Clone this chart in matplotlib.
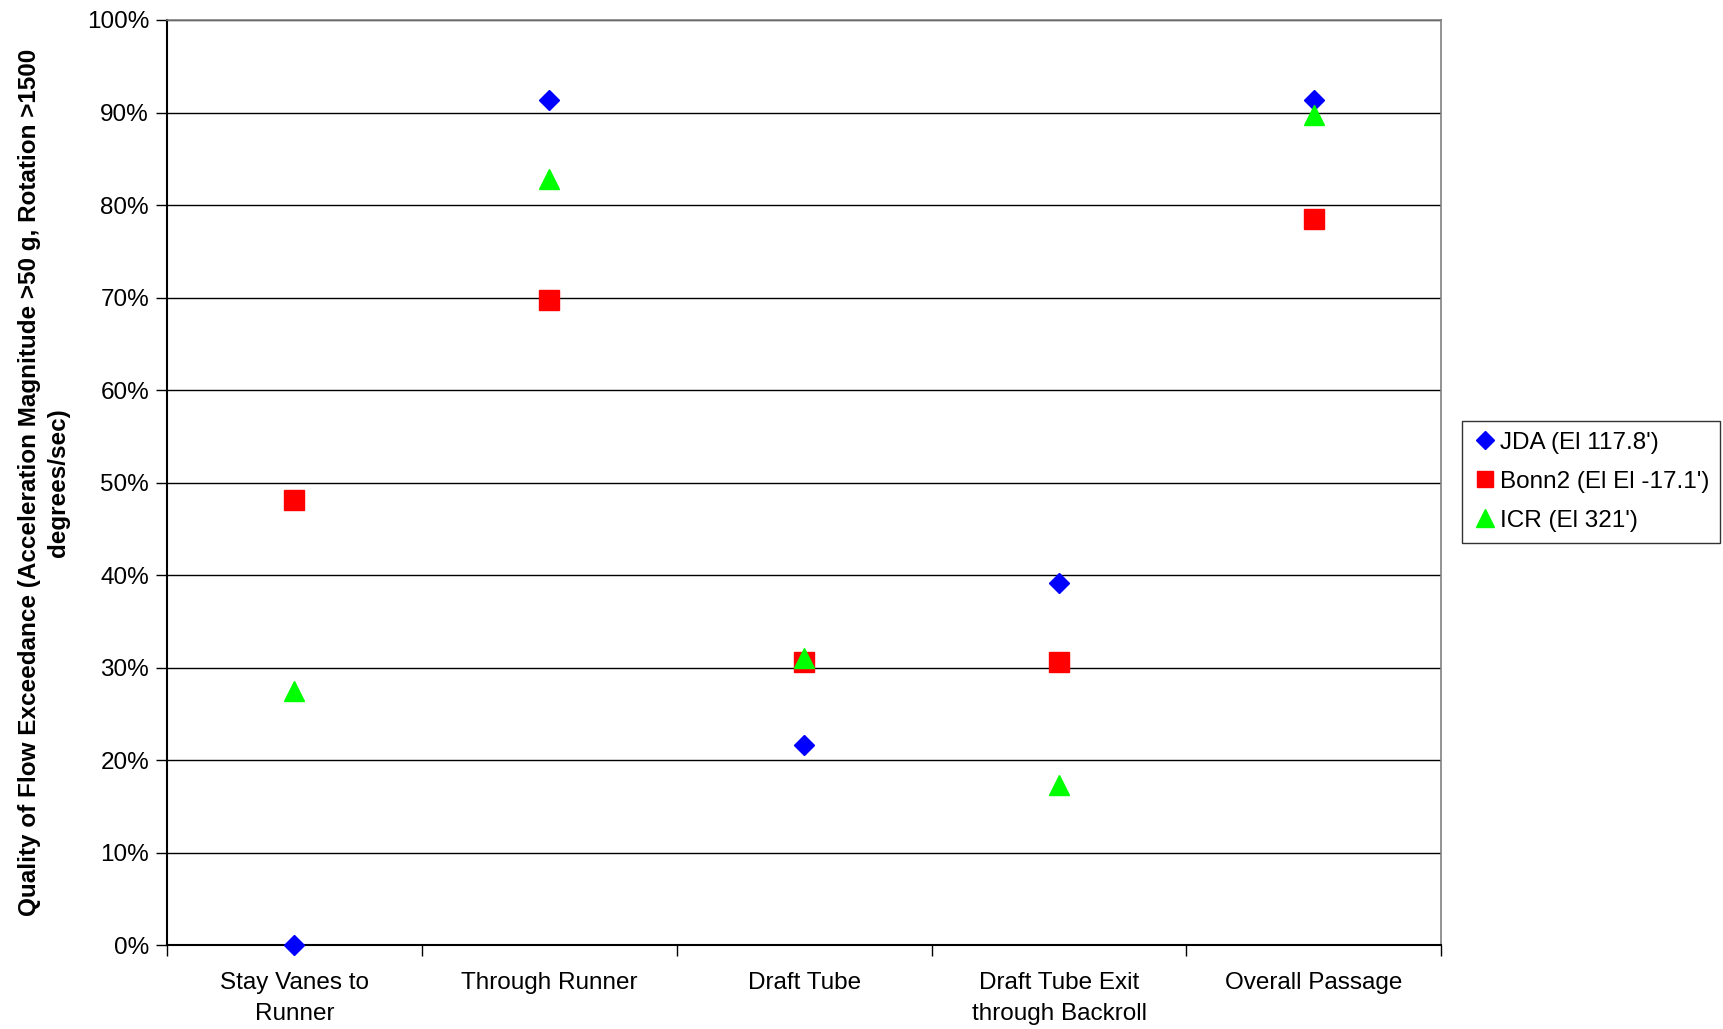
import matplotlib
matplotlib.use("Agg")
import matplotlib.pyplot as plt
from matplotlib.ticker import FixedLocator, PercentFormatter

categories = ["Stay Vanes to\nRunner", "Through Runner", "Draft Tube",
              "Draft Tube Exit\nthrough Backroll", "Overall Passage"]
jda = [0.0, 91.3, 21.7, 39.2, 91.3]
bonn2 = [48.1, 69.7, 30.6, 30.6, 78.5]
icr = [27.5, 82.8, 31.1, 17.3, 89.7]
series_labels = ["JDA (El 117.8')", "Bonn2 (El El -17.1')", "ICR (El 321')"]
ylabel = "Quality of Flow Exceedance (Acceleration Magnitude >50 g, Rotation >1500\ndegrees/sec)"

plt.rcParams['font.family'] = ['Liberation Sans', 'DejaVu Sans']

fig = plt.figure(figsize=(17.24, 10.29), dpi=100)
ax = fig.add_axes([0.0969, 0.0812, 0.836 - 0.0969, 0.9806 - 0.0812])

x = list(range(len(categories)))
ax.plot(x, jda, linestyle='none', marker='D', markersize=10.5, color='#0000FF',
        markeredgecolor='#0000FF', label=series_labels[0], zorder=4, clip_on=False)
ax.plot(x, bonn2, linestyle='none', marker='s', markersize=14, color='#FF0000',
        markeredgecolor='#FF0000', label=series_labels[1], zorder=4, clip_on=False)
ax.plot(x, icr, linestyle='none', marker='^', markersize=15, color='#00FF00',
        markeredgecolor='#00FF00', label=series_labels[2], zorder=4, clip_on=False)

ax.set_xlim(-0.5, len(categories) - 0.5)
ax.set_ylim(0, 100)
ax.yaxis.set_major_locator(FixedLocator(range(0, 101, 10)))
ax.yaxis.set_major_formatter(PercentFormatter(decimals=0))
ax.grid(axis='y', color='black', linewidth=1.0)
ax.set_axisbelow(True)

ax.set_xticks(x)
ax.set_xticklabels(categories, fontsize=17.5, linespacing=1.55)
ax.xaxis.set_minor_locator(FixedLocator([i - 0.5 for i in range(len(categories) + 1)]))
ax.tick_params(axis='x', which='major', length=0, pad=19)
ax.tick_params(axis='x', which='minor', length=8, width=1, color='black', direction='out')
ax.tick_params(axis='y', which='major', length=8, width=1, direction='out', labelsize=17.5, pad=5)

for s in ['top', 'right']:
    ax.spines[s].set_color('#808080')
    ax.spines[s].set_linewidth(1.2)
for s in ['left', 'bottom']:
    ax.spines[s].set_color('black')
    ax.spines[s].set_linewidth(1.5)

ax.set_ylabel(ylabel, fontsize=17.5, fontweight='bold', labelpad=12, linespacing=1.35)

leg = fig.legend(loc='upper left', bbox_to_anchor=(0.848, 0.591), bbox_transform=fig.transFigure,
                 fontsize=17.5, frameon=True, fancybox=False, borderaxespad=0,
                 handletextpad=0.1, handlelength=1.0, markerscale=0.85, labelspacing=0.7,
                 borderpad=0.45)
leg.get_frame().set_edgecolor('black')
leg.get_frame().set_linewidth(1.0)

fig.savefig("out.png", dpi=100, facecolor='white')
